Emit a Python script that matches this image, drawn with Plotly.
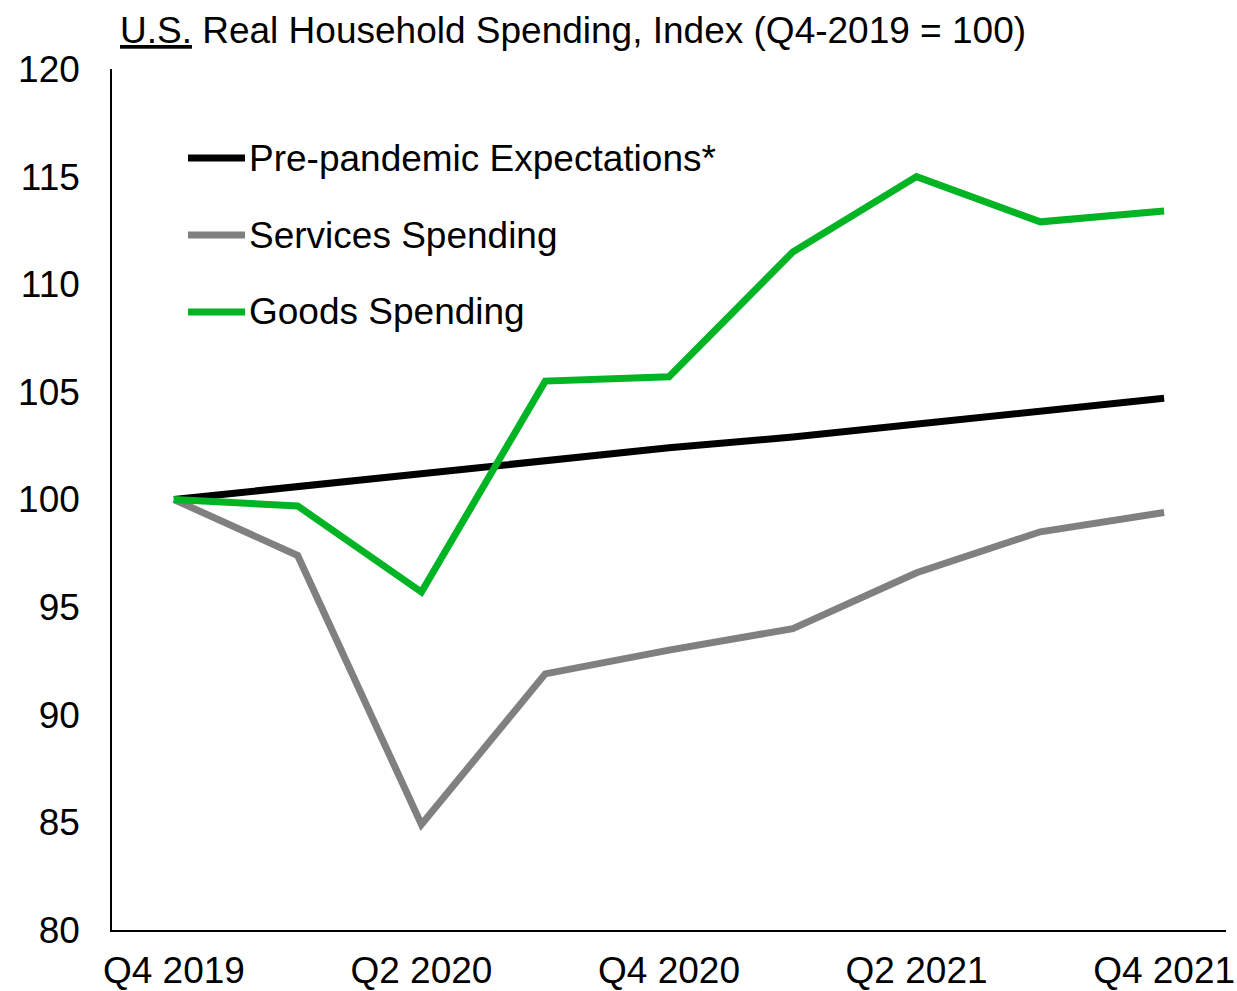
import plotly.graph_objects as go

# Quarterly index of US real household spending (Q4-2019 = 100)
quarters = ["Q4 2019", "Q1 2020", "Q2 2020", "Q3 2020", "Q4 2020",
            "Q1 2021", "Q2 2021", "Q3 2021", "Q4 2021"]
pre_pandemic = [100.0, 100.6, 101.2, 101.8, 102.4, 102.9, 103.5, 104.1, 104.7]
services = [100.0, 97.4, 84.9, 91.9, 93.0, 94.0, 96.6, 98.5, 99.4]
goods = [100.0, 99.7, 95.7, 105.5, 105.7, 111.5, 115.0, 112.9, 113.4]

tick_labels = ["Q4 2019", "Q2 2020", "Q4 2020", "Q2 2021", "Q4 2021"]
y_ticks = [80, 85, 90, 95, 100, 105, 110, 115, 120]

series_names = ["Pre-pandemic Expectations*", "Services Spending", "Goods Spending"]
series_colors = ["#000000", "#808080", "#00B424"]

FONT = "Liberation Sans, Arial, sans-serif"
FS = 37
LW = 7

fig = go.Figure()
# drawing order: services underneath, then expectations, goods on top
for name, vals, color in [
    (series_names[1], services, series_colors[1]),
    (series_names[0], pre_pandemic, series_colors[0]),
    (series_names[2], goods, series_colors[2]),
]:
    fig.add_trace(go.Scatter(x=quarters, y=vals, mode="lines", name=name,
                             line=dict(color=color, width=LW), showlegend=False))

# hand-built legend: thick line sample followed by the series name
legend_rows_y = [0.8966, 0.8072, 0.7178]
for name, color, yy in zip(series_names, series_colors, legend_rows_y):
    fig.add_shape(type="line", xref="paper", yref="paper",
                  x0=0.0682, x1=0.1194, y0=yy, y1=yy,
                  line=dict(color=color, width=LW))
    fig.add_annotation(xref="paper", yref="paper", x=0.1212, y=yy,
                       text=name, showarrow=False, xanchor="left", yanchor="middle",
                       font=dict(family=FONT, size=FS, color="#000000"))

fig.add_annotation(xref="paper", yref="paper", x=0.0054, y=1.0, yshift=39,
                   text="<u>U.S.</u> Real Household Spending, Index (Q4-2019 = 100)",
                   showarrow=False, xanchor="left", yanchor="middle",
                   font=dict(family=FONT, size=FS, color="#000000"))

fig.update_layout(
    width=1237, height=991,
    margin=dict(l=112, r=11, t=69, b=61),
    paper_bgcolor="white", plot_bgcolor="white",
    font=dict(family=FONT, size=FS, color="#000000"),
    xaxis=dict(type="category", range=[-0.5, 8.5], automargin=False,
               tickmode="array", tickvals=tick_labels, ticktext=tick_labels,
               showline=True, linecolor="#000000", linewidth=2,
               showgrid=False, zeroline=False, ticks="", ticklabelstandoff=7),
    yaxis=dict(range=[80, 120], tickmode="array", tickvals=y_ticks, automargin=False,
               showline=True, linecolor="#000000", linewidth=1.5,
               showgrid=False, zeroline=False, ticks="", ticklabelstandoff=23),
)

fig.write_html("out.html")
